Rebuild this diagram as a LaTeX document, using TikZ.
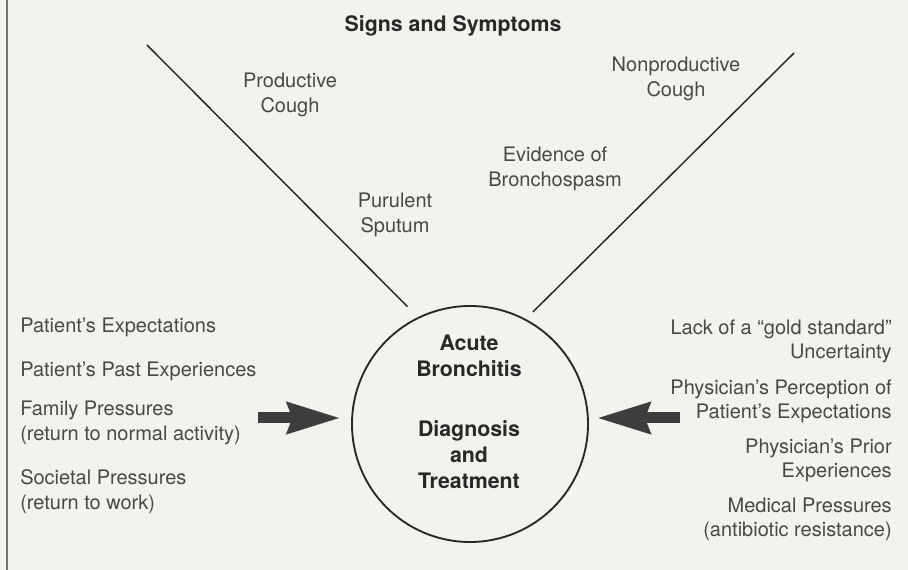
\documentclass[tikz,border=0pt]{standalone}
\usepackage{fontspec}
\setmainfont{TeX Gyre Heros}
\usetikzlibrary{arrows.meta,calc}

\definecolor{paper}{RGB}{244,242,237}
\definecolor{ink}{RGB}{40,40,40}
\definecolor{softink}{RGB}{72,72,72}

\begin{document}
\begin{tikzpicture}[
  x=0.75pt, y=-0.75pt,
  >={Stealth[length=40pt,width=25pt,inset=5pt,line width=0pt]},
  plain/.style={inner sep=0pt, text=softink, font=\fontsize{15}{18.75}\selectfont},
  toplbl/.style={plain, align=center, anchor=north},
  leftlbl/.style={plain, align=left, anchor=north west},
  rightlbl/.style={plain, align=right, anchor=north east,
    font=\fontsize{15}{17.5}\selectfont},
  boldlbl/.style={inner sep=0pt, text=ink, align=center, anchor=north,
    font=\bfseries\fontsize{16}{19.5}\selectfont},
  hub/.style={circle, draw=ink, line width=1.4pt, minimum size=177pt, inner sep=0pt},
  spoke/.style={draw=ink, line width=1.1pt},
  push/.style={->, draw=ink!90, line width=8.25pt}
]
\fill[paper] (0,0) rectangle (908,570);
\useasboundingbox (0,0) rectangle (908,570);
\draw[black!55, line width=0.9pt] (7,0) -- (7,570);

% =============================================================
% top: signs and symptoms
% =============================================================
\node[boldlbl] (title) at (453,15) {Signs and Symptoms};

\node[toplbl] (prodcough) at (290,73) {Productive\\Cough};
\node[toplbl] (pus) at (395,193) {Purulent\\Sputum};
\node[toplbl] (drycough) at (676,57) {Nonproductive\\Cough};
\node[toplbl] (spasm) at (555,147) {Evidence of\\Bronchospasm};

% centre: the decision circle
\node[hub] (hub) at (470,424) {};
\node[boldlbl] (disease) at (469,335) {Acute\\Bronchitis};
\node[boldlbl] (care) at (469,420) {Diagnosis\\and\\Treatment};

% =============================================================
% left: patient side
% =============================================================
\node[leftlbl] (ptexp) at (20,318) {Patient's Expectations};
\node[leftlbl] (ptpast) at (20,362) {Patient's Past Experiences};
\node[leftlbl] (family) at (20,401) {Family Pressures\\(return to normal activity)};
\node[leftlbl] (society) at (20,469) {Societal Pressures\\(return to work)};

% =============================================================
% right: physician side
% =============================================================
\node[rightlbl] (nogold) at (892,320) {Lack of a ``gold standard''\\Uncertainty};
\node[rightlbl] (perceive) at (892,380) {Physician's Perception of\\Patient's Expectations};
\node[rightlbl] (prior) at (892,439) {Physician's Prior\\Experiences};
\node[rightlbl] (medical) at (892,498) {Medical Pressures\\(antibiotic resistance)};

% =============================================================
% lines and arrows
% =============================================================
\coordinate (prodend) at (147,45);
\coordinate (dryend) at (794,53);
\draw[spoke, shorten >=11pt] (prodend) -- (hub.116);
\draw[spoke, shorten >=7.5pt] (dryend) -- (hub.62);

\coordinate (lefttail) at (258,418);
\coordinate (righttail) at (680,418);
\draw[push, shorten >=9pt] (lefttail) -- (hub.west |- lefttail);
\draw[push, shorten >=7pt] (righttail) -- (hub.east |- righttail);

\end{tikzpicture}
\end{document}
